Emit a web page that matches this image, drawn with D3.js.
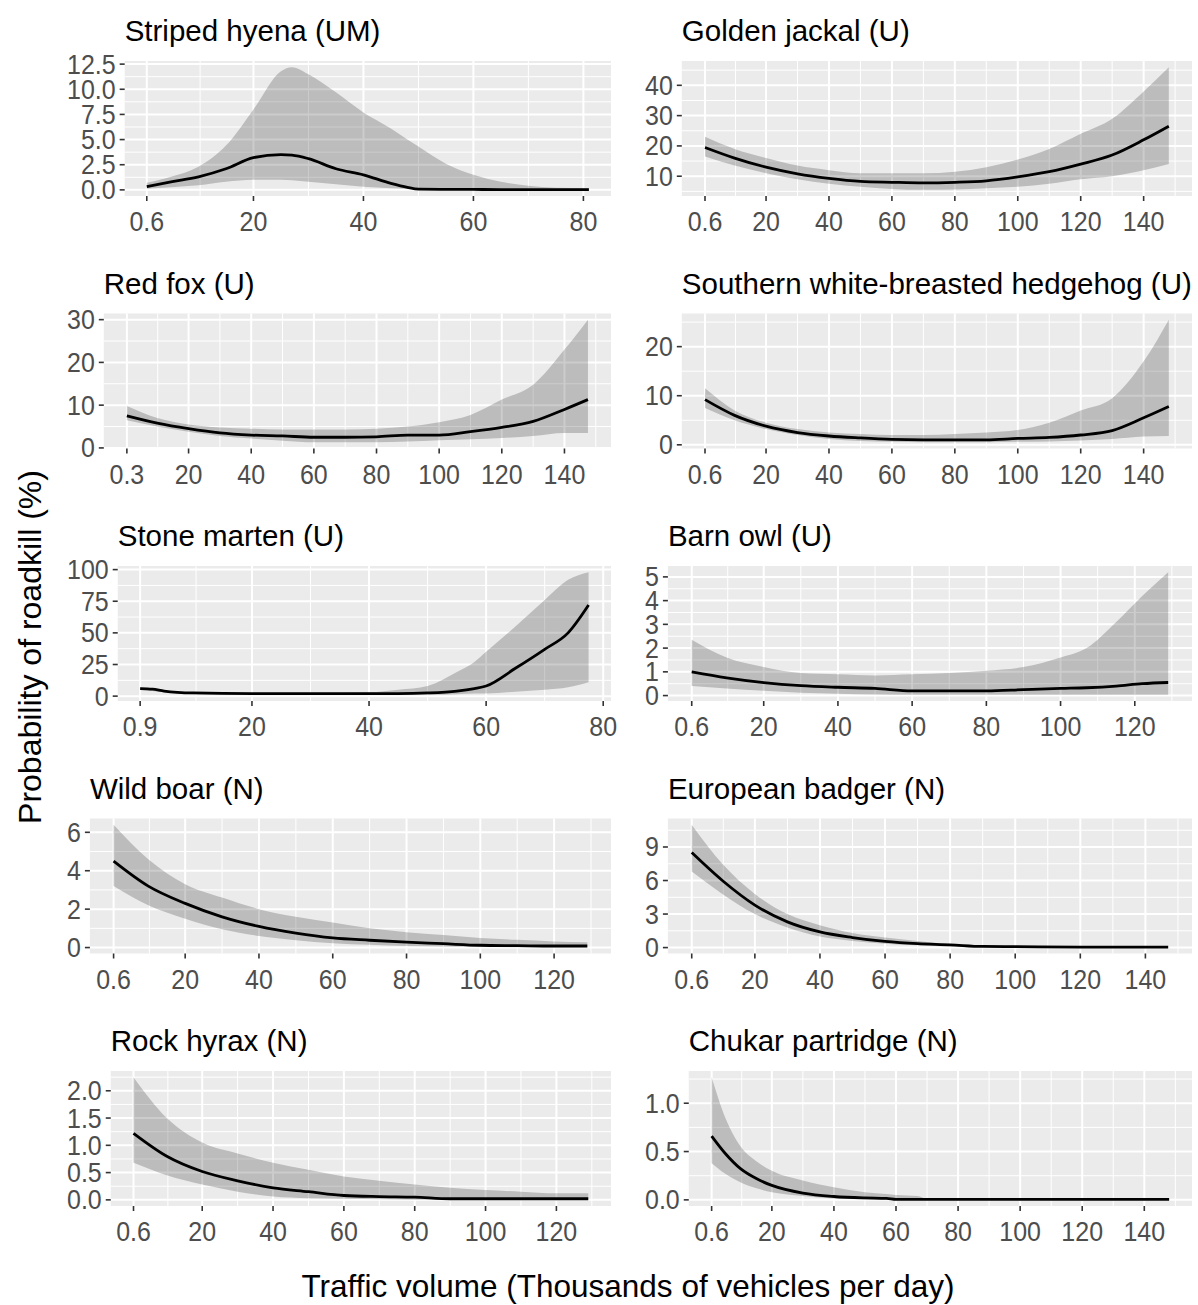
<!DOCTYPE html>
<html>
<head>
<meta charset="utf-8">
<script src="https://cdn.jsdelivr.net/npm/d3@7"></script>
<style>
  body { margin: 0; background: #fff; }
  text { font-family: "Liberation Sans", Arial, sans-serif; }
</style>
</head>
<body>
<div id="chart"></div>
<script>
// ---- data (traffic volume in thousands / probability %) ----
const titles = [
  "Striped hyena (UM)", "Golden jackal (U)", "Red fox (U)",
  "Southern white-breasted hedgehog (U)", "Stone marten (U)", "Barn owl (U)",
  "Wild boar (N)", "European badger (N)", "Rock hyrax (N)", "Chukar partridge (N)"
];

const hyenaX   = [0.6, 5, 10, 15, 20, 25, 27, 30, 35, 40, 45, 48, 50, 55, 60, 65, 70, 75, 81];
const hyenaFit = [0.33, 0.8, 1.3, 2.1, 3.2, 3.5, 3.45, 3.1, 2.1, 1.5, 0.65, 0.25, 0.07, 0.05, 0.04, 0.03, 0.03, 0.03, 0.03];
const hyenaHi  = [0.7, 1.3, 2.3, 4.4, 8.0, 11.8, 12.2, 11.5, 9.7, 7.7, 6.1, 5.0, 4.3, 2.6, 1.5, 0.8, 0.4, 0.2, 0.15];
const hyenaLo  = [0.1, 0.25, 0.45, 0.8, 1.0, 1.0, 0.95, 0.8, 0.55, 0.3, 0.15, 0.08, 0.02, 0.01, 0, 0, 0, 0, 0];

const jackalX   = [0.6, 10, 20, 30, 40, 50, 60, 70, 80, 90, 100, 110, 120, 130, 140, 148];
const jackalFit = [19.5, 16, 13, 10.8, 9.3, 8.3, 8.0, 7.8, 8.0, 8.5, 9.8, 11.5, 14, 17, 22, 26.5];
const jackalHi  = [23, 19, 16, 13.5, 12, 11, 11, 11, 11.5, 13, 15.5, 19, 24, 29, 38, 46];
const jackalLo  = [16.5, 13.5, 11, 9, 7.5, 6.5, 5.8, 5.5, 5.6, 6, 6.5, 7.5, 9, 10, 12, 14];

const foxX   = [0.3, 10, 20, 30, 40, 50, 60, 70, 80, 90, 100, 110, 120, 130, 140, 147.5];
const foxFit = [7.5, 5.8, 4.5, 3.5, 3.0, 2.8, 2.5, 2.5, 2.6, 3.0, 3.0, 3.8, 4.8, 6.2, 9, 11.3];
const foxHi  = [9.8, 7, 5.5, 4.8, 4.5, 4.3, 4.3, 4.3, 4.5, 5.0, 6.0, 7.7, 11.3, 14.8, 23, 30];
const foxLo  = [6.5, 5, 3.8, 2.8, 2.2, 1.7, 1.3, 1.3, 1.3, 1.5, 1.8, 2.0, 2.3, 2.8, 3.5, 3.5];

const hedgehogX   = [0.6, 10, 20, 30, 40, 50, 60, 70, 80, 90, 100, 110, 120, 130, 140, 148];
const hedgehogFit = [9.2, 6, 3.8, 2.5, 1.8, 1.4, 1.1, 1.0, 1.0, 1.0, 1.3, 1.5, 2.0, 2.9, 5.5, 7.8];
const hedgehogHi  = [11.5, 7, 4.5, 3.2, 2.5, 2.2, 2.0, 2.0, 2.2, 2.5, 3.0, 4.5, 7.0, 9.5, 17, 25.5];
const hedgehogLo  = [7.5, 5, 3.2, 2.0, 1.2, 0.8, 0.6, 0.5, 0.5, 0.5, 0.6, 0.7, 0.9, 1.2, 1.7, 1.8];

const martenX   = [0.9, 3, 5, 10, 20, 30, 40, 45, 50, 55, 58, 60, 65, 70, 74, 77.5];
const martenFit = [6, 5.5, 4, 2.5, 2, 2, 2, 2, 2.5, 4, 6, 8, 22, 37, 50, 72];
const martenHi  = [7, 5.5, 4.5, 3, 2.5, 2.5, 3, 5, 8, 19, 27, 35, 55, 76, 92, 98];
const martenLo  = [5, 4, 3, 1.5, 1, 1, 1, 1, 1, 1.5, 2, 2, 3.5, 5, 7, 11];

const owlX   = [0.6, 10, 20, 30, 40, 50, 60, 70, 80, 90, 100, 107, 115, 122, 129];
const owlFit = [1.0, 0.75, 0.55, 0.42, 0.35, 0.3, 0.2, 0.2, 0.2, 0.25, 0.3, 0.33, 0.4, 0.5, 0.55];
const owlHi  = [2.35, 1.6, 1.2, 0.95, 0.9, 0.85, 0.9, 0.95, 1.05, 1.2, 1.6, 2.0, 3.1, 4.2, 5.2];
const owlLo  = [0.4, 0.3, 0.2, 0.12, 0.08, 0.05, 0.04, 0.03, 0.03, 0.03, 0.03, 0.03, 0.03, 0.03, 0.03];

const boarX   = [0.6, 10, 20, 30, 40, 50, 60, 70, 80, 90, 100, 110, 120, 129];
const boarFit = [4.5, 3.2, 2.3, 1.6, 1.1, 0.75, 0.5, 0.38, 0.28, 0.2, 0.12, 0.1, 0.08, 0.08];
const boarHi  = [6.4, 4.6, 3.3, 2.6, 2.0, 1.6, 1.3, 1.0, 0.8, 0.65, 0.5, 0.4, 0.32, 0.28];
const boarLo  = [3.2, 2.2, 1.5, 0.95, 0.6, 0.38, 0.22, 0.14, 0.08, 0.05, 0.03, 0.02, 0.01, 0.01];

const badgerX   = [0.6, 10, 20, 30, 40, 50, 60, 70, 80, 90, 100, 120, 140, 147];
const badgerFit = [8.5, 6, 3.8, 2.3, 1.4, 0.9, 0.55, 0.35, 0.25, 0.1, 0.08, 0.05, 0.05, 0.05];
const badgerHi  = [11, 7.5, 4.8, 3.0, 2.0, 1.3, 0.9, 0.6, 0.3, 0.12, 0.09, 0.06, 0.06, 0.06];
const badgerLo  = [6.8, 4.8, 3.0, 1.8, 1.0, 0.6, 0.35, 0.2, 0.1, 0.05, 0.03, 0.02, 0.02, 0.02];

const hyraxX   = [0.6, 10, 20, 30, 40, 50, 60, 70, 80, 90, 100, 110, 120, 129];
const hyraxFit = [1.22, 0.8, 0.52, 0.35, 0.22, 0.15, 0.08, 0.06, 0.05, 0.02, 0.02, 0.02, 0.02, 0.02];
const hyraxHi  = [2.25, 1.5, 1.05, 0.85, 0.68, 0.55, 0.43, 0.35, 0.28, 0.22, 0.18, 0.15, 0.12, 0.12];
const hyraxLo  = [0.68, 0.45, 0.28, 0.15, 0.06, 0.03, 0.02, 0.01, 0, 0, 0, 0, 0, 0];

const chukarX   = [0.6, 5, 10, 15, 20, 30, 40, 50, 57, 60, 67, 70, 80, 100, 120, 148];
const chukarFit = [0.66, 0.48, 0.32, 0.22, 0.15, 0.07, 0.035, 0.02, 0.015, 0.005, 0.005, 0.005, 0.005, 0.005, 0.005, 0.005];
const chukarHi  = [1.27, 0.85, 0.55, 0.4, 0.3, 0.2, 0.13, 0.08, 0.06, 0.05, 0.04, 0.01, 0.01, 0.01, 0.01, 0.01];
const chukarLo  = [0.38, 0.27, 0.18, 0.12, 0.08, 0.04, 0.015, 0.005, 0, 0, 0, 0, 0, 0, 0, 0];

// tick labels
const xTicks80a = [0.6, 20, 40, 60, 80];
const xTicks80b = [0.9, 20, 40, 60, 80];
const xTicks120 = [0.6, 20, 40, 60, 80, 100, 120];
const xTicks140 = [0.6, 20, 40, 60, 80, 100, 120, 140];
const xTicks140fox = [0.3, 20, 40, 60, 80, 100, 120, 140];
const yTicksHyena = [0, 2.5, 5, 7.5, 10, 12.5];
const yTicksJackal = [10, 20, 30, 40];
const yTicksFox = [0, 10, 20, 30];
const yTicksHedgehog = [0, 10, 20];
const yTicksMarten = [0, 25, 50, 75, 100];
const yTicksOwl = [0, 1, 2, 3, 4, 5];
const yTicksBoar = [0, 2, 4, 6];
const yTicksBadger = [0, 3, 6, 9];
const yTicksHyrax = [0, 0.5, 1, 1.5, 2];
const yTicksChukar = [0, 0.5, 1];

const panels = [
  {x: hyenaX, fit: hyenaFit, lo: hyenaLo, hi: hyenaHi, xt: xTicks80a, yt: yTicksHyena, dec: true},
  {x: jackalX, fit: jackalFit, lo: jackalLo, hi: jackalHi, xt: xTicks140, yt: yTicksJackal},
  {x: foxX, fit: foxFit, lo: foxLo, hi: foxHi, xt: xTicks140fox, yt: yTicksFox},
  {x: hedgehogX, fit: hedgehogFit, lo: hedgehogLo, hi: hedgehogHi, xt: xTicks140, yt: yTicksHedgehog},
  {x: martenX, fit: martenFit, lo: martenLo, hi: martenHi, xt: xTicks80b, yt: yTicksMarten},
  {x: owlX, fit: owlFit, lo: owlLo, hi: owlHi, xt: xTicks120, yt: yTicksOwl},
  {x: boarX, fit: boarFit, lo: boarLo, hi: boarHi, xt: xTicks120, yt: yTicksBoar},
  {x: badgerX, fit: badgerFit, lo: badgerLo, hi: badgerHi, xt: xTicks140, yt: yTicksBadger},
  {x: hyraxX, fit: hyraxFit, lo: hyraxLo, hi: hyraxHi, xt: xTicks120, yt: yTicksHyrax, dec: true},
  {x: chukarX, fit: chukarFit, lo: chukarLo, hi: chukarHi, xt: xTicks140, yt: yTicksChukar, dec: true}
];

// ---- layout ----
const W = 1198, H = 1305;
const colLabelStart = [62, 640];
const colRight = [611, 1192];
const firstTop = 61, rowPitch = 252.5, panelH = 135;
const tickFont = 25, stretch = 1.12;   // tick labels look slightly tall in the original

const svg = d3.select("#chart").append("svg")
  .attr("width", W).attr("height", H);

// ggplot-like expanded domain
function expand(lo, hi) {
  const pad = (hi - lo) * 0.05;
  return [lo - pad, hi + pad];
}
// ggplot-like minor breaks: midpoints of major breaks (extended one step each side)
function minorBreaks(b, dom) {
  const ext = [b[0] - (b[1] - b[0]), ...b, b[b.length - 1] + (b[b.length - 1] - b[b.length - 2])];
  const m = [];
  for (let i = 0; i < ext.length - 1; i++) m.push((ext[i] + ext[i + 1]) / 2);
  return m.filter(v => v >= dom[0] && v <= dom[1]);
}

panels.forEach((p, i) => {
  const col = i % 2, row = Math.floor(i / 2);
  const top = firstTop + row * rowPitch;
  const bottom = top + panelH;
  const yFmt = p.dec ? d3.format(".1f") : d3.format("d");

  const g = svg.append("g");

  // measure y labels to place the panel like ggplot does
  const yLab = g.append("g").attr("font-size", tickFont).attr("fill", "#4d4d4d");
  const labels = yLab.selectAll("text").data(p.yt).enter().append("text").text(yFmt);
  let maxW = 0;
  labels.each(function () { maxW = Math.max(maxW, this.getComputedTextLength()); });
  const left = colLabelStart[col] + maxW + 14;
  const right = colRight[col];

  const xDom = expand(d3.min(p.x), d3.max(p.x));
  const yDom = expand(d3.min(p.lo), d3.max(p.hi));
  const x = d3.scaleLinear().domain(xDom).range([left, right]);
  const y = d3.scaleLinear().domain(yDom).range([bottom, top]);

  // panel background
  g.insert("rect", ":first-child")
    .attr("x", left).attr("y", top)
    .attr("width", right - left).attr("height", panelH)
    .attr("fill", "#ebebeb");

  const grid = g.append("g").attr("stroke", "#fff");
  grid.selectAll("line.vmin").data(minorBreaks(p.xt, xDom)).enter().append("line")
    .attr("x1", d => x(d)).attr("x2", d => x(d)).attr("y1", top).attr("y2", bottom)
    .attr("stroke-width", 1);
  grid.selectAll("line.hmin").data(minorBreaks(p.yt, yDom)).enter().append("line")
    .attr("y1", d => y(d)).attr("y2", d => y(d)).attr("x1", left).attr("x2", right)
    .attr("stroke-width", 1);
  grid.selectAll("line.vmaj").data(p.xt).enter().append("line")
    .attr("x1", d => x(d)).attr("x2", d => x(d)).attr("y1", top).attr("y2", bottom)
    .attr("stroke-width", 2);
  grid.selectAll("line.hmaj").data(p.yt).enter().append("line")
    .attr("y1", d => y(d)).attr("y2", d => y(d)).attr("x1", left).attr("x2", right)
    .attr("stroke-width", 2);

  const pts = p.x.map((v, k) => ({x: v, fit: p.fit[k], lo: p.lo[k], hi: p.hi[k]}));

  // confidence ribbon
  g.append("path")
    .datum(pts)
    .attr("fill", "#000")
    .attr("fill-opacity", 0.2)
    .attr("d", d3.area().curve(d3.curveMonotoneX)
      .x(d => x(d.x)).y0(d => y(d.lo)).y1(d => y(d.hi)));

  // fitted line
  g.append("path")
    .datum(pts)
    .attr("fill", "none")
    .attr("stroke", "#000")
    .attr("stroke-width", 2.8)
    .attr("d", d3.line().curve(d3.curveMonotoneX).x(d => x(d.x)).y(d => y(d.fit)));

  // y axis ticks + labels
  labels.attr("transform", d => `translate(${left - 9},${y(d)}) scale(1,${stretch})`)
    .attr("text-anchor", "end")
    .attr("dominant-baseline", "central");
  yLab.raise();
  g.selectAll("line.yt").data(p.yt).enter().append("line")
    .attr("x1", left - 5).attr("x2", left).attr("y1", d => y(d)).attr("y2", d => y(d))
    .attr("stroke", "#333").attr("stroke-width", 1.6);

  // x axis ticks + labels
  g.selectAll("line.xt").data(p.xt).enter().append("line")
    .attr("x1", d => x(d)).attr("x2", d => x(d)).attr("y1", bottom).attr("y2", bottom + 5)
    .attr("stroke", "#333").attr("stroke-width", 1.6);
  g.append("g").attr("font-size", tickFont).attr("fill", "#4d4d4d")
    .selectAll("text").data(p.xt).enter().append("text")
    .attr("transform", d => `translate(${x(d)},${bottom + 35}) scale(1,${stretch})`)
    .attr("text-anchor", "middle")
    .text(d => String(d));

  // panel title
  g.append("text")
    .attr("x", left).attr("y", top - 20)
    .attr("font-size", 29.5).attr("fill", "#000")
    .text(titles[i]);
});

// shared axis titles
svg.append("text")
  .attr("transform", "translate(30,647) rotate(-90)")
  .attr("text-anchor", "middle").attr("dominant-baseline", "central")
  .attr("font-size", 32).attr("fill", "#000")
  .text("Probability of roadkill (%)");

svg.append("text")
  .attr("x", 628).attr("y", 1297)
  .attr("text-anchor", "middle")
  .attr("font-size", 31.5).attr("fill", "#000")
  .text("Traffic volume (Thousands of vehicles per day)");
</script>
</body>
</html>
